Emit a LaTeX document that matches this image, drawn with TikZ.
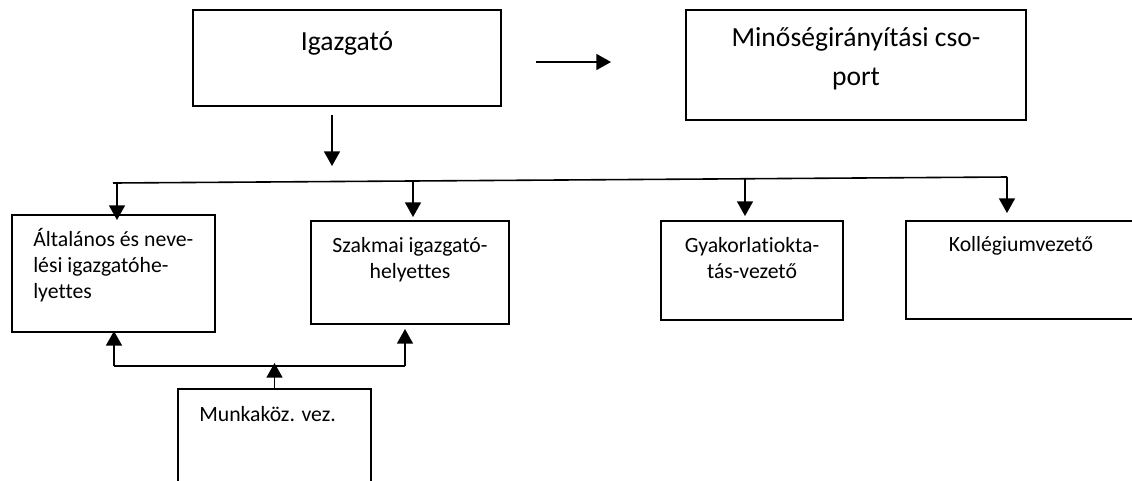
\documentclass[tikz,border=0pt]{standalone}
\usepackage{fontspec}
\setmainfont{Carlito}[Ligatures=NoCommon]
\usetikzlibrary{arrows.meta,fit}

\tikzset{
  box/.style={draw, line width=1.5pt, inner sep=0pt},
  conn/.style={line width=1.2pt},
  arr/.style={conn, -{Triangle[length=11pt,width=12pt]}},
  small/.style={font=\fontsize{16.3pt}{19.5pt}\selectfont, inner sep=0pt},
  big/.style={font=\fontsize{20.7pt}{29pt}\selectfont, inner sep=0pt}
}

\begin{document}
\begin{tikzpicture}[x=0.75pt, y=-0.75pt]
\useasboundingbox (0,0) rectangle (1132,480);
\clip (0,0) rectangle (1132,480);

% boxes
\node[box, fit={(193,10) (501,106)}] (igaz) {};
\node[box, fit={(686,10) (1026,120)}] (minoseg) {};
\node[box, fit={(12,215) (215,332)}] (alt) {};
\node[box, fit={(311,221) (509,324)}] (szak) {};
\node[box, fit={(661,221) (843,320)}] (gyak) {};
\node[box, fit={(906,221) (1145,319)}] (koll) {};
\node[box, fit={(178,389) (371,495)}] (munk) {};

% texts (multi-line nodes are placed by the baseline of their last line)
\node[big, anchor=base] at (347,50) {Igazgató};
\node[big, anchor=base, align=center] at (856,85) {Minőségirányítási cso-\\port};
\node[small, anchor=base west, align=left] at (33,298) {Általános és neve-\\lési igazgatóhe-\\lyettes};
\node[small, anchor=base, align=center] at (410,278) {Szakmai igazgató-\\helyettes};
\node[small, anchor=base, align=center] at (752,278) {Gyakorlatiokta-\\tás-vezető};
\node[small, anchor=base] at (1021,251) {Kollégiumvezető};
\node[small, anchor=base west] at (199,421) {Munkaköz. vez.};

% junction points
\coordinate (igtip) at (332,166);
\coordinate (busL) at (113,183);
\coordinate (d1) at (117,183);
\coordinate (d2) at (413,181);
\coordinate (d3) at (745,179);
\coordinate (d4) at (1007,177);
\coordinate (j1) at (114,366);
\coordinate (j2) at (405,366);

% director links
\draw[arr, shorten <=25.5pt, shorten >=55.5pt] (igaz.east |- 0,62) -- (minoseg.west |- 0,62);
\draw[arr, shorten <=6pt] (igaz.south -| igtip) -- (igtip);

% distribution bus
\draw[conn] (busL) -- (d4);
\draw[arr, shorten >=-4.5pt] (d1) -- (d1 |- alt.north);
\draw[arr, shorten >=2.25pt] (d2) -- (d2 |- szak.north);
\draw[arr, shorten >=3pt] (d3) -- (d3 |- gyak.north);
\draw[arr, shorten >=5.25pt] (d4) -- (d4 |- koll.north);

% lower bus
\draw[conn] (j1) -- (j2);
\draw[arr, shorten >=-1.5pt] (j1) -- (j1 |- alt.south);
\draw[arr, shorten >=3pt] (j2) -- (j2 |- szak.south);
\draw[arr, shorten >=-2.25pt] (munk.north) -- (munk.north |- j1);
\end{tikzpicture}
\end{document}
